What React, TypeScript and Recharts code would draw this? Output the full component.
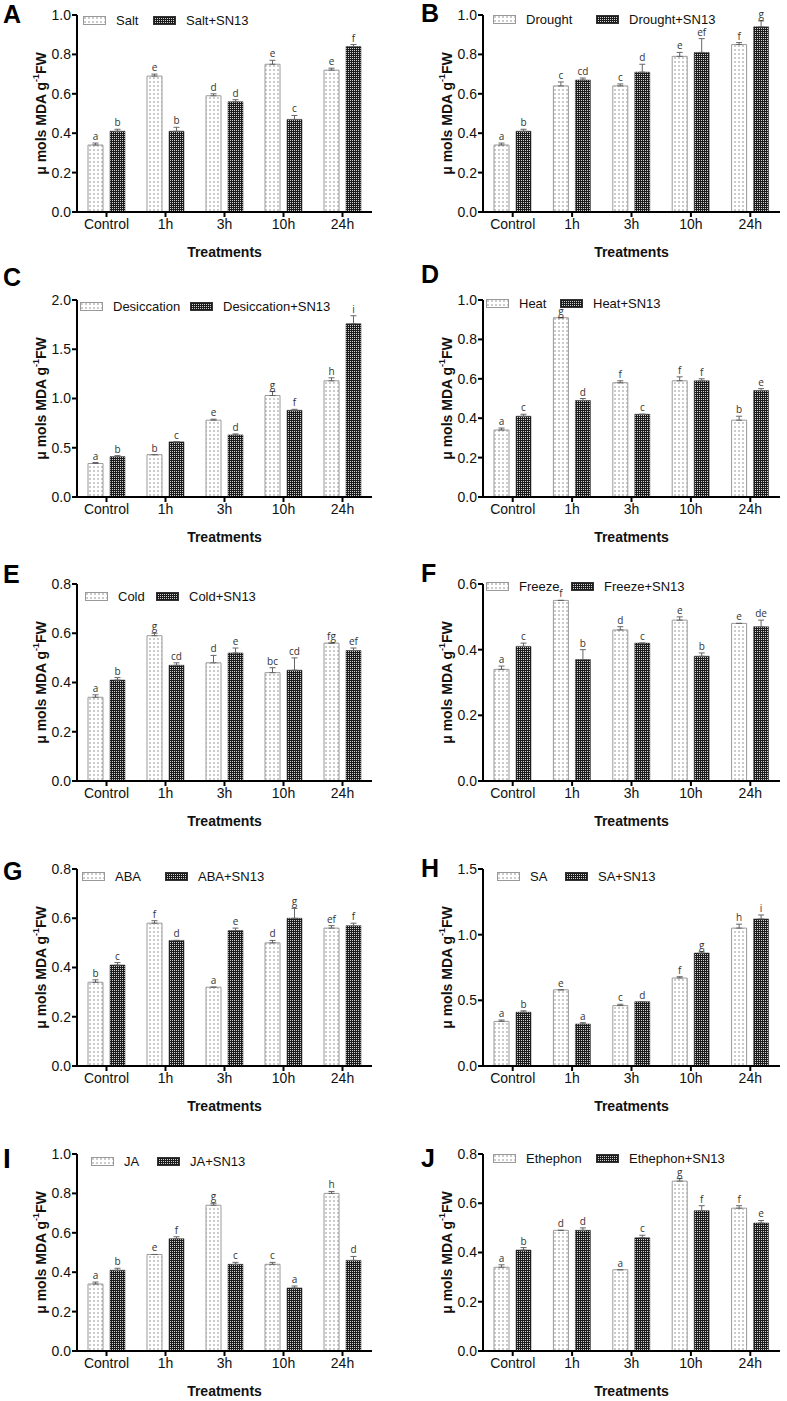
import React from "react"
import { BarChart, Bar, XAxis, YAxis, ErrorBar, LabelList, Legend } from "recharts"

const CATEGORIES = ["Control", "1h", "3h", "10h", "24h"]

// A - Salt
const saltValues = [0.34, 0.69, 0.59, 0.75, 0.72]
const saltSn13Values = [0.41, 0.41, 0.56, 0.47, 0.84]
const saltErr = [0.01, 0.01, 0.01, 0.02, 0.01]
const saltSn13Err = [0.01, 0.02, 0.01, 0.02, 0.01]
const saltLetters = ["a", "e", "d", "e", "e"]
const saltSn13Letters = ["b", "b", "d", "c", "f"]

// B - Drought
const droughtValues = [0.34, 0.64, 0.64, 0.79, 0.85]
const droughtSn13Values = [0.41, 0.67, 0.71, 0.81, 0.94]
const droughtErr = [0.01, 0.02, 0.01, 0.02, 0.01]
const droughtSn13Err = [0.01, 0.01, 0.04, 0.07, 0.03]
const droughtLetters = ["a", "c", "c", "e", "f"]
const droughtSn13Letters = ["b", "cd", "d", "ef", "g"]

// C - Desiccation
const desiccationValues = [0.34, 0.43, 0.78, 1.03, 1.18]
const desiccationSn13Values = [0.41, 0.56, 0.63, 0.88, 1.76]
const desiccationErr = [0.01, 0, 0.01, 0.04, 0.03]
const desiccationSn13Err = [0.01, 0, 0.01, 0.01, 0.08]
const desiccationLetters = ["a", "b", "e", "g", "h"]
const desiccationSn13Letters = ["b", "c", "d", "f", "i"]

// D - Heat
const heatValues = [0.34, 0.91, 0.58, 0.59, 0.39]
const heatSn13Values = [0.41, 0.49, 0.42, 0.59, 0.54]
const heatErr = [0.01, 0, 0.01, 0.02, 0.02]
const heatSn13Err = [0.01, 0.01, 0, 0.01, 0.01]
const heatLetters = ["a", "g", "f", "f", "b"]
const heatSn13Letters = ["c", "d", "c", "f", "e"]

// E - Cold
const coldValues = [0.34, 0.59, 0.48, 0.44, 0.56]
const coldSn13Values = [0.41, 0.47, 0.52, 0.45, 0.53]
const coldErr = [0.01, 0.01, 0.03, 0.02, 0]
const coldSn13Err = [0.01, 0.01, 0.02, 0.05, 0.01]
const coldLetters = ["a", "g", "d", "bc", "fg"]
const coldSn13Letters = ["b", "cd", "e", "cd", "ef"]

// F - Freeze
const freezeValues = [0.34, 0.55, 0.46, 0.49, 0.48]
const freezeSn13Values = [0.41, 0.37, 0.42, 0.38, 0.47]
const freezeErr = [0.01, 0, 0.01, 0.01, 0]
const freezeSn13Err = [0.01, 0.03, 0, 0.01, 0.02]
const freezeLetters = ["a", "f", "d", "e", "e"]
const freezeSn13Letters = ["c", "b", "c", "b", "de"]

// G - ABA
const abaValues = [0.34, 0.58, 0.32, 0.5, 0.56]
const abaSn13Values = [0.41, 0.51, 0.55, 0.6, 0.57]
const abaErr = [0.01, 0.01, 0, 0.01, 0.01]
const abaSn13Err = [0.01, 0, 0.01, 0.04, 0.01]
const abaLetters = ["b", "f", "a", "d", "ef"]
const abaSn13Letters = ["c", "d", "e", "g", "f"]

// H - SA
const saValues = [0.34, 0.58, 0.46, 0.67, 1.05]
const saSn13Values = [0.41, 0.32, 0.49, 0.86, 1.12]
const saErr = [0.01, 0, 0.01, 0.01, 0.03]
const saSn13Err = [0.01, 0.01, 0, 0.01, 0.03]
const saLetters = ["a", "e", "c", "f", "h"]
const saSn13Letters = ["b", "a", "d", "g", "i"]

// I - JA
const jaValues = [0.34, 0.49, 0.74, 0.44, 0.8]
const jaSn13Values = [0.41, 0.57, 0.44, 0.32, 0.46]
const jaErr = [0.01, 0, 0.01, 0.01, 0.01]
const jaSn13Err = [0.01, 0.01, 0.01, 0.01, 0.02]
const jaLetters = ["a", "e", "g", "c", "h"]
const jaSn13Letters = ["b", "f", "c", "a", "d"]

// J - Ethephon
const ethephonValues = [0.34, 0.49, 0.33, 0.69, 0.58]
const ethephonSn13Values = [0.41, 0.49, 0.46, 0.57, 0.52]
const ethephonErr = [0.01, 0, 0, 0.01, 0.01]
const ethephonSn13Err = [0.01, 0.01, 0.01, 0.02, 0.01]
const ethephonLetters = ["a", "d", "a", "g", "f"]
const ethephonSn13Letters = ["b", "d", "c", "f", "e"]

const TICKS_10 = [0, 0.2, 0.4, 0.6, 0.8, 1.0]
const TICKS_08 = [0, 0.2, 0.4, 0.6, 0.8]
const TICKS_06 = [0, 0.2, 0.4, 0.6]
const TICKS_15 = [0, 0.5, 1.0, 1.5]
const TICKS_20 = [0, 0.5, 1.0, 1.5, 2.0]

const FONT = "'Liberation Sans', Arial, sans-serif"
const LETTER_FONT = "'Open Sans', 'Liberation Sans', sans-serif"
const PLOT_H = 197

const PANELS = [
  { id: "A", name: "Salt", a: saltValues, b: saltSn13Values, ea: saltErr, eb: saltSn13Err, la: saltLetters, lb: saltSn13Letters, yMax: 1, ticks: TICKS_10, col: 0, plotTop: 15, letterY: 23, legend: [6, 76], legendDy: 6 },
  { id: "B", name: "Drought", a: droughtValues, b: droughtSn13Values, ea: droughtErr, eb: droughtSn13Err, la: droughtLetters, lb: droughtSn13Letters, yMax: 1, ticks: TICKS_10, col: 1, plotTop: 15, letterY: 22, legend: [10, 113], legendDy: 5 },
  { id: "C", name: "Desiccation", a: desiccationValues, b: desiccationSn13Values, ea: desiccationErr, eb: desiccationSn13Err, la: desiccationLetters, lb: desiccationSn13Letters, yMax: 2, ticks: TICKS_20, col: 0, plotTop: 300, letterY: 286, legend: [3, 113], legendDy: 7 },
  { id: "D", name: "Heat", a: heatValues, b: heatSn13Values, ea: heatErr, eb: heatSn13Err, la: heatLetters, lb: heatSn13Letters, yMax: 1, ticks: TICKS_10, col: 1, plotTop: 300, letterY: 283, legend: [3, 77], legendDy: 4 },
  { id: "E", name: "Cold", a: coldValues, b: coldSn13Values, ea: coldErr, eb: coldSn13Err, la: coldLetters, lb: coldSn13Letters, yMax: 0.8, ticks: TICKS_08, col: 0, plotTop: 584, letterY: 583, legend: [8, 79], legendDy: 13 },
  { id: "F", name: "Freeze", a: freezeValues, b: freezeSn13Values, ea: freezeErr, eb: freezeSn13Err, la: freezeLetters, lb: freezeSn13Letters, yMax: 0.6, ticks: TICKS_06, col: 1, plotTop: 584, letterY: 582, legend: [3, 88], legendDy: 3 },
  { id: "G", name: "ABA", a: abaValues, b: abaSn13Values, ea: abaErr, eb: abaSn13Err, la: abaLetters, lb: abaSn13Letters, yMax: 0.8, ticks: TICKS_08, col: 0, plotTop: 869, letterY: 880, legend: [5, 88], legendDy: 8 },
  { id: "H", name: "SA", a: saValues, b: saSn13Values, ea: saErr, eb: saSn13Err, la: saLetters, lb: saSn13Letters, yMax: 1.5, ticks: TICKS_15, col: 1, plotTop: 869, letterY: 877, legend: [14, 82], legendDy: 8 },
  { id: "I", name: "JA", a: jaValues, b: jaSn13Values, ea: jaErr, eb: jaSn13Err, la: jaLetters, lb: jaSn13Letters, yMax: 1, ticks: TICKS_10, col: 0, plotTop: 1154, letterY: 1168, legend: [14, 80], legendDy: 8 },
  { id: "J", name: "Ethephon", a: ethephonValues, b: ethephonSn13Values, ea: ethephonErr, eb: ethephonSn13Err, la: ethephonLetters, lb: ethephonSn13Letters, yMax: 0.8, ticks: TICKS_08, col: 1, plotTop: 1154, letterY: 1167, legend: [10, 113], legendDy: 5 },
]

const COLS = [
  { x: 0, width: 393, axisX: 77, right: 372, letterX: 3 },
  { x: 393, width: 394, axisX: 483, right: 780, letterX: 421 },
]

const makeLetterLabel = (letters: string[], errs: number[], pxPerUnit: number) => (props: any) => {
  const vb = props.viewBox || props
  const i = props.index
  if (vb == null || i == null) return null
  const e = (errs[i] || 0) * pxPerUnit
  return (
    <text x={vb.x + vb.width / 2} y={vb.y - e - 3} textAnchor="middle" fontSize={10} fill="#333" fontFamily={LETTER_FONT}>
      {letters[i]}
    </text>
  )
}

const YLabel = (props: any) => {
  const vb = props.viewBox || { x: 0, y: 0, width: 40, height: PLOT_H }
  const cx = vb.x + vb.width - 36
  const cy = vb.y + vb.height / 2
  return (
    <text x={cx} y={cy} transform={`rotate(-90, ${cx}, ${cy})`} textAnchor="middle" dominantBaseline="central" fontSize={14} fontWeight="bold" fill="#111" fontFamily={FONT}>
      μ mols MDA g<tspan dy={-5} fontSize={9}>-1</tspan><tspan dy={5}>FW</tspan>
    </text>
  )
}

const Swatch = ({ fill, stroke }: { fill: string; stroke: string }) => (
  <svg width={23} height={9} style={{ position: "absolute", left: 0, top: 4 }}>
    <rect x={0.5} y={0.5} width={22} height={8} fill={fill} stroke={stroke} strokeWidth={1} />
  </svg>
)

function Panel({ p }: { p: (typeof PANELS)[number] }) {
  const col = COLS[p.col]
  const chartTop = p.plotTop - 15
  const chartH = 260
  const data = CATEGORIES.map((c, i) => ({
    name: c,
    a: p.a[i],
    b: p.b[i],
    ea: [0, p.ea[i]],
    eb: [0, p.eb[i]],
  }))
  const pxPerUnit = PLOT_H / p.yMax
  const offsets = p.legend

  const renderLegend = (lp: any) => {
    const items = lp.payload || []
    return (
      <div style={{ position: "relative", width: 320, height: 17, fontFamily: FONT, fontSize: 13, color: "#111" }}>
        {items.map((it: any, k: number) => {
          const left = offsets[k] - offsets[0]
          const light = k === 0
          return (
            <div key={k} style={{ position: "absolute", left, top: 0, height: 17 }}>
              <Swatch fill={light ? "url(#dots)" : "url(#checks)"} stroke={light ? "#999" : "#333"} />
              <span style={{ position: "absolute", left: 33, top: 0, lineHeight: "17px", whiteSpace: "nowrap" }}>{it.value}</span>
            </div>
          )
        })}
      </div>
    )
  }

  return (
    <div style={{ position: "absolute", left: col.x, top: chartTop }}>
      <BarChart
        width={col.width}
        height={chartH}
        data={data}
        margin={{ top: 15, right: col.x + col.width - col.right, bottom: 3, left: col.axisX - col.x - 40 }}
        barSize={15}
        barGap={7}
      >
        <XAxis
          dataKey="name"
          height={45}
          tick={{ fontSize: 14, fill: "#111", fontFamily: FONT }}
          tickSize={5}
          tickMargin={2}
          axisLine={{ stroke: "#000", strokeWidth: 2 }}
          tickLine={{ stroke: "#000", strokeWidth: 2 }}
          label={{ value: "Treatments", position: "insideBottom", offset: 0, fontSize: 14, fontWeight: "bold", fill: "#111", fontFamily: FONT }}
        />
        <YAxis
          width={40}
          domain={[0, p.yMax]}
          ticks={p.ticks}
          allowDataOverflow
          tickFormatter={(v: number) => v.toFixed(1)}
          tick={{ fontSize: 14, fill: "#111", fontFamily: FONT }}
          tickSize={5}
          tickMargin={1}
          axisLine={{ stroke: "#000", strokeWidth: 2 }}
          tickLine={{ stroke: "#000", strokeWidth: 2 }}
          label={{ content: <YLabel /> }}
        />
        <Legend
          layout="horizontal"
          verticalAlign="middle"
          align="center"
          content={renderLegend}
          wrapperStyle={{ left: col.axisX - col.x + offsets[0], top: 15 + p.legendDy - 9, width: 320, height: 17 }}
        />
        <Bar dataKey="a" name={p.name} fill="url(#dots)" stroke="#9a9a9a" strokeWidth={1} isAnimationActive={false}>
          <ErrorBar dataKey="ea" width={3} stroke="#666" strokeWidth={1} direction="y" />
          <LabelList dataKey="a" content={makeLetterLabel(p.la, p.ea, pxPerUnit)} />
        </Bar>
        <Bar dataKey="b" name={p.name + "+SN13"} fill="url(#checks)" stroke="#2a2a2a" strokeWidth={0.5} isAnimationActive={false}>
          <ErrorBar dataKey="eb" width={3} stroke="#666" strokeWidth={1} direction="y" />
          <LabelList dataKey="b" content={makeLetterLabel(p.lb, p.eb, pxPerUnit)} />
        </Bar>
      </BarChart>
    </div>
  )
}

export default function App() {
  return (
    <div style={{ position: "absolute", left: 0, top: 0, width: 787, height: 1401, background: "#fff", overflow: "hidden" }}>
      <svg width={0} height={0} style={{ position: "absolute" }}>
        <defs>
          <pattern id="dots" width={4} height={4} patternUnits="userSpaceOnUse">
            <rect width={4} height={4} fill="#fff" />
            <rect x={1.5} y={1.5} width={1} height={1} fill="#333" />
          </pattern>
          <pattern id="checks" width={2} height={2} patternUnits="userSpaceOnUse">
            <rect width={2} height={2} fill="#1c1c1c" />
            <rect width={1} height={1} fill="#d0d0d0" />
          </pattern>
        </defs>
      </svg>
      {PANELS.map((p) => (
        <Panel key={p.id} p={p} />
      ))}
      <svg width={787} height={1401} style={{ position: "absolute", left: 0, top: 0, pointerEvents: "none" }}>
        {PANELS.map((p) => (
          <text key={p.id} x={COLS[p.col].letterX} y={p.letterY} fontSize={p.id === "I" ? 28 : 25} fontWeight="bold" fill="#000" fontFamily={FONT}>
            {p.id}
          </text>
        ))}
      </svg>
    </div>
  )
}
